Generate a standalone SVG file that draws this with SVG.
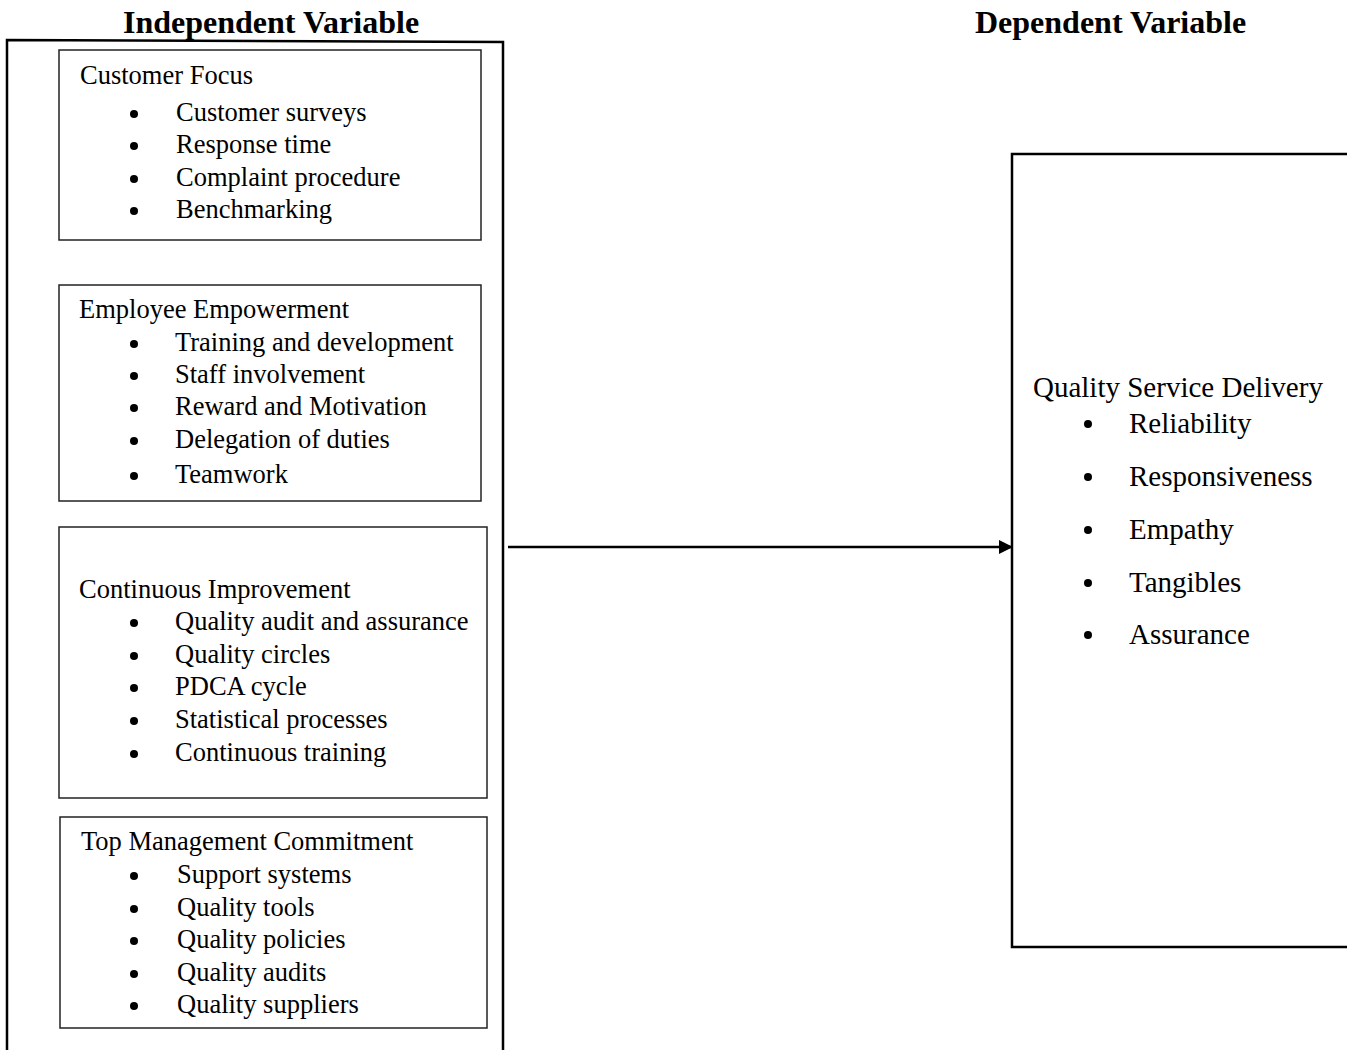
<svg xmlns="http://www.w3.org/2000/svg" width="1347" height="1050" viewBox="0 0 1347 1050">
<style>
text{font-family:"Liberation Serif","Times New Roman",serif;font-size:26.5px;fill:#000}
.h{font-weight:bold;font-size:32px}
.r{font-size:29px}
.box{fill:none;stroke:#222;stroke-width:1.5}
.big{fill:none;stroke:#000;stroke-width:2.5}
.b{fill:#000}
</style>
<defs>
<marker id="arr" markerWidth="14" markerHeight="14" refX="14" refY="7" orient="auto" markerUnits="userSpaceOnUse" viewBox="0 0 14 14">
<path d="M0,0 L14,7 L0,14 z" fill="#000"/>
</marker>
</defs>
<rect width="1347" height="1050" fill="#fff"/>
<text class="h" x="123" y="33">Independent Variable</text>
<text class="h" x="975" y="33">Dependent Variable</text>
<g id="iv-frame"><path class="big" d="M7,1052 L7,40 L503,42 L503,1052"/></g>
<g id="customer-focus">
<rect class="box" x="59" y="50" width="422" height="190"/>
<text x="80" y="84">Customer Focus</text>
<circle class="b" cx="134" cy="114" r="4"/><text x="176" y="121">Customer surveys</text>
<circle class="b" cx="134" cy="146" r="4"/><text x="176" y="153">Response time</text>
<circle class="b" cx="134" cy="179" r="4"/><text x="176" y="186">Complaint procedure</text>
<circle class="b" cx="134" cy="211" r="4"/><text x="176" y="218">Benchmarking</text>
</g>
<g id="employee-empowerment">
<rect class="box" x="59" y="285" width="422" height="216"/>
<text x="79" y="318">Employee Empowerment</text>
<circle class="b" cx="134" cy="344" r="4"/><text x="175" y="351">Training and development</text>
<circle class="b" cx="134" cy="376" r="4"/><text x="175" y="383">Staff involvement</text>
<circle class="b" cx="134" cy="408" r="4"/><text x="175" y="415">Reward and Motivation</text>
<circle class="b" cx="134" cy="441" r="4"/><text x="175" y="448">Delegation of duties</text>
<circle class="b" cx="134" cy="476" r="4"/><text x="175" y="483">Teamwork</text>
</g>
<g id="continuous-improvement">
<rect class="box" x="59" y="527" width="428" height="271"/>
<text x="79" y="598">Continuous Improvement</text>
<circle class="b" cx="134" cy="623" r="4"/><text x="175" y="630">Quality audit and assurance</text>
<circle class="b" cx="134" cy="656" r="4"/><text x="175" y="663">Quality circles</text>
<circle class="b" cx="134" cy="688" r="4"/><text x="175" y="695">PDCA cycle</text>
<circle class="b" cx="134" cy="721" r="4"/><text x="175" y="728">Statistical processes</text>
<circle class="b" cx="134" cy="754" r="4"/><text x="175" y="761">Continuous training</text>
</g>
<g id="top-management">
<rect class="box" x="60" y="817" width="427" height="211"/>
<text x="81" y="850">Top Management Commitment</text>
<circle class="b" cx="134" cy="876" r="4"/><text x="177" y="883">Support systems</text>
<circle class="b" cx="134" cy="909" r="4"/><text x="177" y="916">Quality tools</text>
<circle class="b" cx="134" cy="941" r="4"/><text x="177" y="948">Quality policies</text>
<circle class="b" cx="134" cy="974" r="4"/><text x="177" y="981">Quality audits</text>
<circle class="b" cx="134" cy="1006" r="4"/><text x="177" y="1013">Quality suppliers</text>
</g>
<g id="quality-service-delivery">
<path class="big" d="M1350,154 L1012,154 L1012,947 L1350,947"/>
<text class="r" x="1033" y="397">Quality Service Delivery</text>
<circle class="b" cx="1088" cy="424" r="4"/><text class="r" x="1129" y="433">Reliability</text>
<circle class="b" cx="1088" cy="477" r="4"/><text class="r" x="1129" y="486">Responsiveness</text>
<circle class="b" cx="1088" cy="530" r="4"/><text class="r" x="1129" y="539">Empathy</text>
<circle class="b" cx="1088" cy="583" r="4"/><text class="r" x="1129" y="592">Tangibles</text>
<circle class="b" cx="1088" cy="635" r="4"/><text class="r" x="1129" y="644">Assurance</text>
</g>
<g id="connectors">
<line x1="508" y1="547" x2="1013" y2="547" stroke="#000" stroke-width="2.5" marker-end="url(#arr)"/>
</g>
</svg>
